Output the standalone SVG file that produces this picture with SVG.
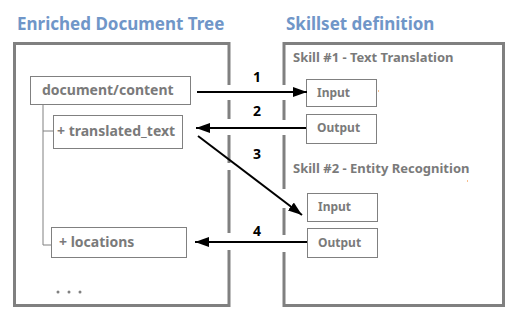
<svg xmlns="http://www.w3.org/2000/svg" width="518" height="318" viewBox="0 0 518 318">
<defs>
<style>
.title{font-family:"Noto Sans","Open Sans",sans-serif;font-weight:700;font-size:17px;fill:#7096c8}
.node{font-family:"Noto Sans","Open Sans",sans-serif;font-weight:700;font-size:14px;fill:#7a7a7a}
.skill{font-family:"Noto Sans","Open Sans",sans-serif;font-weight:700;font-size:13px;fill:#7a7a7a}
.io{font-family:"Noto Sans","Open Sans",sans-serif;font-weight:700;font-size:12px;fill:#7a7a7a}
.num{font-family:"Noto Sans","Open Sans",sans-serif;font-weight:700;font-size:14px;fill:#000;text-anchor:middle}
.panel{fill:none;stroke:#808080;stroke-width:3}
.box{fill:#fff;stroke:#808080;stroke-width:1}
.tree{fill:none;stroke:#808080;stroke-width:1}
.conn{fill:none;stroke:#000;stroke-width:2}
</style>
<marker id="ah" markerWidth="14" markerHeight="10" refX="14" refY="5" orient="auto" markerUnits="userSpaceOnUse">
<path d="M0,0 L14,5 L0,10 Z" fill="#000"/>
</marker>
</defs>
<rect width="518" height="318" fill="#fff"/>
<g id="titles">
<text class="title" x="17" y="30">Enriched Document Tree</text>
<text class="title" x="286" y="30">Skillset definition</text>
</g>
<g id="panels">
<path class="panel" d="M229,85 V43.5 H14.5 V305.5 H229 V250 M229,100 V119 M229,135 V163 M229,170 V233"/>
<path class="panel" d="M284,85 V43.5 H503.5 V305.5 H284 V252 M284,100 V120 M284,135 V189 M284,208 V235"/>
</g>
<g id="tree-lines">
<path class="tree" d="M43,104 V245 H51 M43,131 H53"/>
</g>
<g id="doc-content">
<rect class="box" x="30.5" y="76.5" width="160" height="28"/>
<text class="node" x="42" y="95">document/content</text>
</g>
<g id="translated-text">
<rect class="box" x="53.5" y="115.5" width="129" height="33"/>
<text class="node" x="57" y="136">+ translated_text</text>
</g>
<g id="locations">
<rect class="box" x="51.5" y="227.5" width="135" height="30"/>
<text class="node" x="59" y="247">+ locations</text>
</g>
<g id="ellipsis" fill="#808080">
<circle cx="58" cy="292" r="1.5"/>
<circle cx="69" cy="292" r="1.5"/>
<circle cx="80" cy="292" r="1.5"/>
</g>
<g id="skill1">
<text class="skill" x="293" y="62">Skill #1 - Text Translation</text>
</g>
<g id="skill1-input">
<rect class="box" x="306.5" y="79.5" width="70" height="27"/>
<text class="io" x="317" y="97">Input</text>
</g>
<g id="skill1-output">
<rect class="box" x="306.5" y="114.5" width="70" height="29"/>
<text class="io" x="317" y="132">Output</text>
</g>
<g id="skill2">
<text class="skill" x="293" y="173">Skill #2 - Entity Recognition</text>
</g>
<g id="skill2-input">
<rect class="box" x="307.5" y="193.5" width="70" height="28"/>
<text class="io" x="318" y="211">Input</text>
</g>
<g id="skill2-output">
<rect class="box" x="307.5" y="228.5" width="70" height="29"/>
<text class="io" x="318" y="247">Output</text>
</g>
<g id="specks" fill="#f08020">
<rect x="378" y="90.5" width="1" height="1"/>
<rect x="467" y="180.5" width="1" height="1"/>
</g>
<g id="connectors">
<line class="conn" x1="197" y1="92" x2="307" y2="92" marker-end="url(#ah)"/>
<line class="conn" x1="306" y1="128" x2="196" y2="128" marker-end="url(#ah)"/>
<line class="conn" x1="198" y1="136" x2="302" y2="215" marker-end="url(#ah)"/>
<line class="conn" x1="307" y1="242" x2="195" y2="242" marker-end="url(#ah)"/>
<text class="num" x="257" y="82">1</text>
<text class="num" x="257" y="116">2</text>
<text class="num" x="257" y="159">3</text>
<text class="num" x="257" y="236">4</text>
</g>
</svg>
